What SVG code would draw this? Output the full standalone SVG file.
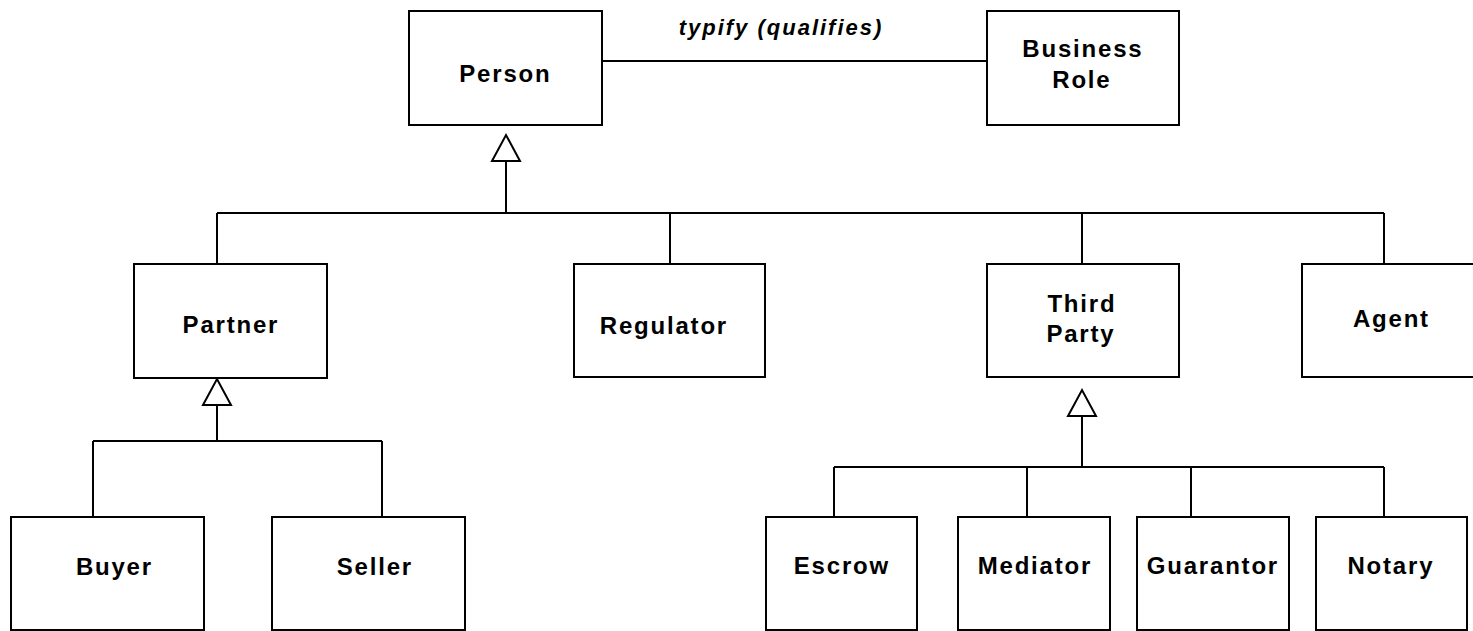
<svg xmlns="http://www.w3.org/2000/svg" width="1473" height="631" viewBox="0 0 1473 631">
  <style>
    .box { fill: #ffffff; stroke: #000000; stroke-width: 2; }
    .lbl { font-family: "Liberation Sans", Arial, sans-serif; font-size: 24px; font-weight: bold; letter-spacing: 1.8px; fill: #000000; text-anchor: middle; }
    .edge { fill: none; stroke: #000000; stroke-width: 2; }
    .elbl { font-family: "Liberation Sans", Arial, sans-serif; font-size: 22px; font-weight: bold; font-style: italic; letter-spacing: 2px; fill: #000000; text-anchor: middle; }
  </style>
  <defs>
    <marker id="gen" viewBox="0 0 26 28" refX="26" refY="14" markerWidth="26" markerHeight="28" markerUnits="userSpaceOnUse" orient="auto" overflow="visible">
      <path d="M0,0 L26,14 L0,28 Z" fill="#ffffff" stroke="#000000" stroke-width="2"/>
    </marker>
  </defs>
  <rect width="1473" height="631" fill="#ffffff"/>

  <g id="connectors">
    <path class="edge" d="M602,61 L987,61"/>
    <text class="elbl" x="781" y="35">typify (qualifies)</text>
    <path class="edge" d="M217,213 L1384,213"/>
    <path class="edge" d="M217,213 L217,264 M670,213 L670,264 M1082,213 L1082,264 M1384,213 L1384,264"/>
    <path class="edge" marker-end="url(#gen)" d="M506,213 L506,135"/>
    <path class="edge" d="M93,441 L382,441 M93,441 L93,517 M382,441 L382,517"/>
    <path class="edge" marker-end="url(#gen)" d="M217,441 L217,379"/>
    <path class="edge" d="M834,467 L1384,467 M834,467 L834,517 M1027,467 L1027,517 M1191,467 L1191,517 M1384,467 L1384,517"/>
    <path class="edge" marker-end="url(#gen)" d="M1082,467 L1082,390"/>
  </g>

  <g id="person">
    <rect class="box" x="409" y="11" width="193" height="114"/>
    <text class="lbl" x="505.4" y="82">Person</text>
  </g>
  <g id="business-role">
    <rect class="box" x="987" y="11" width="192" height="114"/>
    <text class="lbl" x="1082.9" y="57">Business</text>
    <text class="lbl" x="1081.9" y="88">Role</text>
  </g>
  <g id="partner">
    <rect class="box" x="134" y="264" width="193" height="114"/>
    <text class="lbl" x="230.9" y="333">Partner</text>
  </g>
  <g id="regulator">
    <rect class="box" x="574" y="264" width="191" height="113"/>
    <text class="lbl" x="663.9" y="334">Regulator</text>
  </g>
  <g id="third-party">
    <rect class="box" x="987" y="264" width="192" height="113"/>
    <text class="lbl" x="1081.9" y="312">Third</text>
    <text class="lbl" x="1080.9" y="342">Party</text>
  </g>
  <g id="agent">
    <rect class="box" x="1302" y="264" width="180" height="113"/>
    <text class="lbl" x="1391.4" y="327">Agent</text>
  </g>
  <g id="buyer">
    <rect class="box" x="11" y="517" width="193" height="113"/>
    <text class="lbl" x="114.4" y="575">Buyer</text>
  </g>
  <g id="seller">
    <rect class="box" x="272" y="517" width="193" height="113"/>
    <text class="lbl" x="374.9" y="575">Seller</text>
  </g>
  <g id="escrow">
    <rect class="box" x="766" y="517" width="151" height="113"/>
    <text class="lbl" x="841.9" y="574">Escrow</text>
  </g>
  <g id="mediator">
    <rect class="box" x="958" y="517" width="152" height="113"/>
    <text class="lbl" x="1034.9" y="574">Mediator</text>
  </g>
  <g id="guarantor">
    <rect class="box" x="1137" y="517" width="152" height="113"/>
    <text class="lbl" x="1212.9" y="574">Guarantor</text>
  </g>
  <g id="notary">
    <rect class="box" x="1316" y="517" width="151" height="113"/>
    <text class="lbl" x="1390.9" y="574">Notary</text>
  </g>
</svg>
